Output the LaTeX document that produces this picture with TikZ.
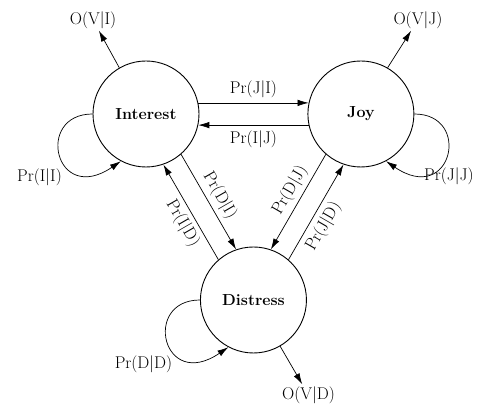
\documentclass[tikz,border=0pt]{standalone}
\usepackage{tikz}
\usetikzlibrary{arrows.meta,positioning,calc}
\tikzset{
  statebox/.style={circle, draw, line width=0.9pt, minimum size=106pt,
    inner sep=0pt, font=\fontsize{16}{19}\selectfont\bfseries},
  problabel/.style={font=\fontsize{17}{20}\selectfont, inner sep=2pt},
  flow/.style={-{Latex[length=11pt,width=6.5pt]}, line width=0.7pt},
  backflow/.style={{Latex[length=11pt,width=6.5pt]}-, line width=0.7pt}
}

\begin{document}
\begin{tikzpicture}[x=1pt,y=1pt]
  \useasboundingbox (0,0) rectangle (488,406);

  % --- states ---
  \node[statebox] (interest) at (146,292) {Interest};
  \node[statebox, right=108pt of interest] (joy) {Joy};
  \node[statebox] (distress) at ($(interest)!0.5!(joy)+(0,-186)$) {Distress};

  % --- observations ---
  \node[problabel] (obsI) at ($(interest)+(-53,94)$) {O(V\textbar I)};
  \node[problabel] (obsJ) at ($(joy)+(57,94)$) {O(V\textbar J)};
  \node[problabel] (obsD) at ($(distress)+(55,-95)$) {O(V\textbar D)};

  % --- self-loop labels ---
  \node[problabel, anchor=east] (selfI) at ($(interest)+(-82,-63)$) {Pr(I\textbar I)};
  \node[problabel, anchor=west] (selfJ) at ($(joy)+(61,-62)$) {Pr(J\textbar J)};
  \node[problabel, anchor=east] (selfD) at ($(distress)+(-79,-64)$) {Pr(D\textbar D)};

  % ---------------- transitions ----------------
  \draw[flow] (interest.12) -- node[problabel, above=3pt]{Pr(J\textbar I)} (joy.168);
  \draw[flow] (joy.-168) -- node[problabel, below=3pt]{Pr(I\textbar J)} (interest.-12);
  \draw[flow] (interest.-49) -- node[problabel, sloped, above=2pt]{Pr(D\textbar I)} (distress.109);
  \draw[backflow] (interest.-71) -- node[problabel, sloped, below=2pt, pos=0.55]{Pr(I\textbar D)} (distress.131);
  \draw[backflow] (distress.71) -- node[problabel, sloped, above=2pt, pos=0.55]{Pr(D\textbar J)} (joy.-131);
  \draw[flow] (distress.49) -- node[problabel, sloped, below=3pt, pos=0.42]{Pr(J\textbar D)} (joy.-109);

  % ---------------- self loops ----------------
  \draw[flow] (interest.180) .. controls +(-58,0) and +(-66,-45) .. (interest.-118);
  \draw[flow] (joy.0) .. controls +(58,0) and +(66,-45) .. (joy.-62);
  \draw[flow] (distress.180) .. controls +(-58,0) and +(-66,-45) .. (distress.-118);

  % ---------------- emissions ----------------
  \draw[flow] (interest.120) -- (obsI);
  \draw[flow] (joy.60) -- (obsJ);
  \draw[flow] (distress.-60) -- (obsD);

\end{tikzpicture}
\end{document}
